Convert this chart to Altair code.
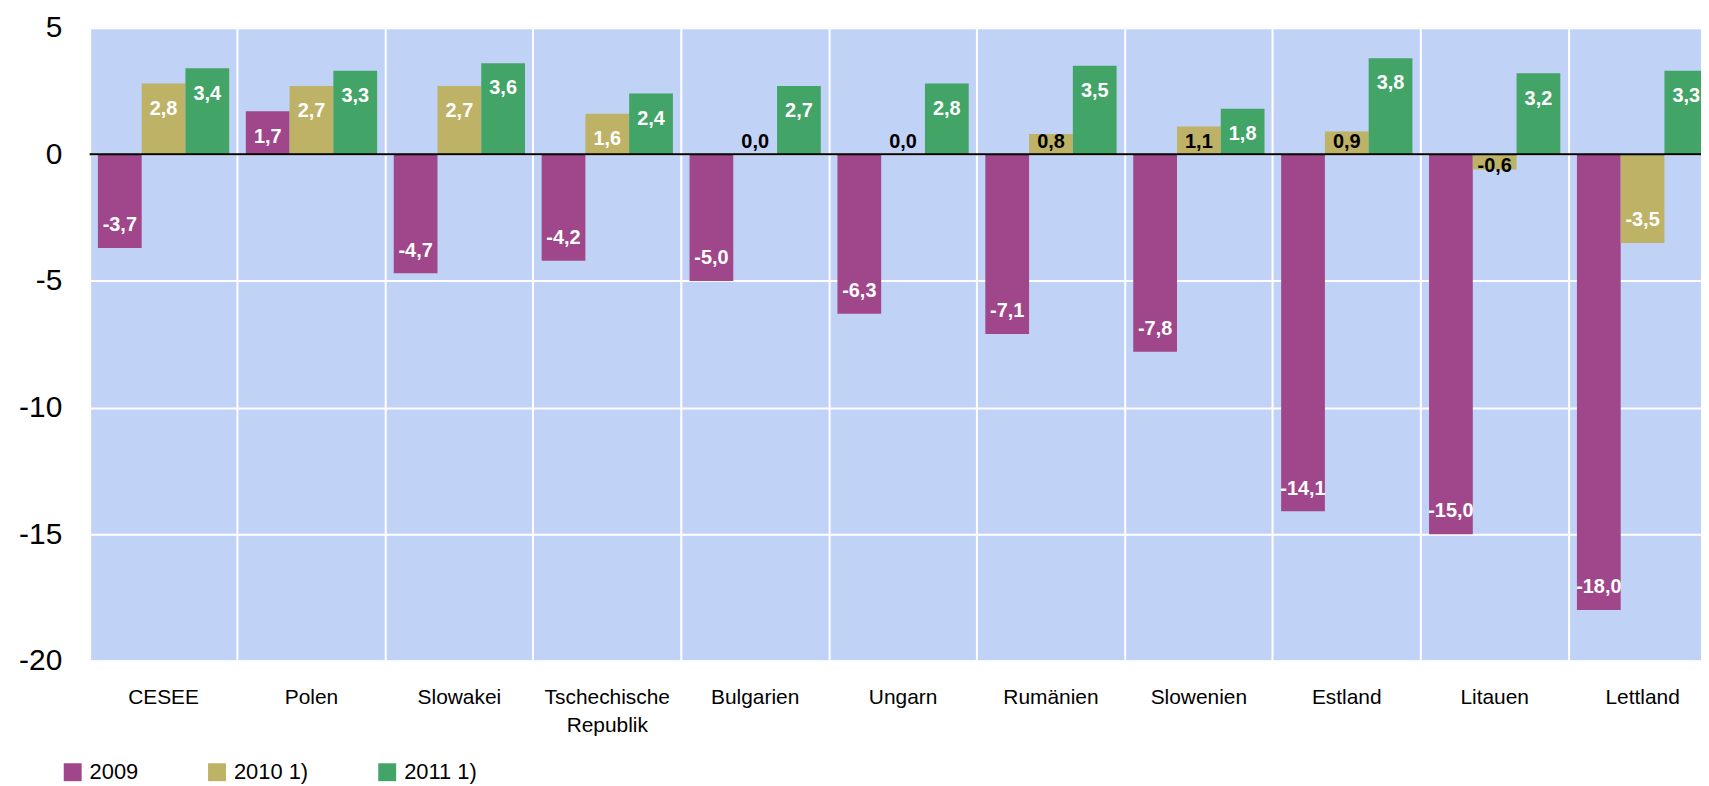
import altair as alt
import pandas as pd

categories = ["CESEE", "Polen", "Slowakei", "Tschechische Republik", "Bulgarien",
              "Ungarn", "Rumänien", "Slowenien", "Estland", "Litauen", "Lettland"]
series_names = ["2009", "2010 1)", "2011 1)"]
values_2009 = [-3.7, 1.7, -4.7, -4.2, -5.0, -6.3, -7.1, -7.8, -14.1, -15.0, -18.0]
values_2010 = [2.8, 2.7, 2.7, 1.6, 0.0, 0.0, 0.8, 1.1, 0.9, -0.6, -3.5]
values_2011 = [3.4, 3.3, 3.6, 2.4, 2.7, 2.8, 3.5, 1.8, 3.8, 3.2, 3.3]
colors = ["#A0468A", "#BEB266", "#42A467"]
y_ticks = [-20, -15, -10, -5, 0, 5]

rows = []
for name, vals in zip(series_names, [values_2009, values_2010, values_2011]):
    for cat, v in zip(categories, vals):
        rows.append({"Land": cat, "Serie": name, "Wert": v,
                     "Text": f"{v:.1f}".replace(".", ",")})
df = pd.DataFrame(rows)

FONT = "Liberation Sans"
STEP = 148.6
W = 1619
H = 636

x_enc = alt.X("Land:N", sort=categories,
              scale=alt.Scale(range=[0, STEP * len(categories)], paddingInner=0, paddingOuter=0),
              axis=alt.Axis(title=None, orient="bottom", bandPosition=0,
                            labelAngle=0, labelFontSize=21, labelFont=FONT, labelColor="black",
                            labelPadding=26, labelLineHeight=28,
                            labelExpr="split(datum.label, ' ')",
                            ticks=False, domain=False, grid=True, gridColor="white",
                            gridWidth=2, gridOpacity=1))
xoff = alt.XOffset("Serie:N", sort=series_names,
                   scale=alt.Scale(paddingOuter=0.19, paddingInner=0))
y_scale = alt.Scale(domain=[-20, 5], nice=False, zero=True)

base = alt.Chart(df)

bars = base.mark_bar(clip=True).encode(
    x=x_enc,
    xOffset=xoff,
    y=alt.Y("Wert:Q", scale=y_scale,
            axis=alt.Axis(title=None, values=y_ticks, labelExpr="datum.value + ''",
                          labelFontSize=30, labelFont=FONT, labelColor="black",
                          labelPadding=28, ticks=False, domain=False, grid=True,
                          gridColor="white", gridWidth=2, gridOpacity=1)),
    color=alt.Color("Serie:N", sort=series_names,
                    scale=alt.Scale(domain=series_names, range=colors),
                    legend=alt.Legend(title=None, orient="none", direction="horizontal",
                                      legendX=-28, legendY=737, symbolType="square",
                                      symbolSize=324, symbolStrokeWidth=0, symbolOpacity=1,
                                      labelFontSize=22, labelFont=FONT, labelColor="black",
                                      labelOffset=6, columnPadding=68)),
)

labels = base.transform_calculate(
    pos="datum.Wert >= 0 ? max(datum.Wert - 1.0, 0.5) : min(datum.Wert + 0.9, -0.45)",
    tcol="abs(datum.Wert) < 1.5 ? 'black' : 'white'",
).mark_text(font=FONT, fontSize=20, fontWeight="bold", baseline="middle",
            align="center", clip=True).encode(
    x=alt.X("Land:N", sort=categories),
    xOffset=alt.XOffset("Serie:N", sort=series_names),
    y=alt.Y("pos:Q", scale=y_scale),
    text="Text:N",
    color=alt.Color("tcol:N", scale=None, legend=None),
)

zero = alt.Chart(pd.DataFrame({"y": [0]})).mark_rule(color="black", strokeWidth=2).encode(
    y=alt.Y("y:Q", scale=y_scale)
)

chart = alt.layer(bars, zero, labels).resolve_scale(color="independent").properties(
    width=W, height=H,
    padding={"left": 82, "top": 18, "right": 0, "bottom": 124},
    autosize=alt.AutoSizeParams(type="none"),
    background="white",
).configure_view(fill="#C0D3F7", stroke=None)

chart.save("out.html", embed_options={"renderer": "svg", "actions": False})
